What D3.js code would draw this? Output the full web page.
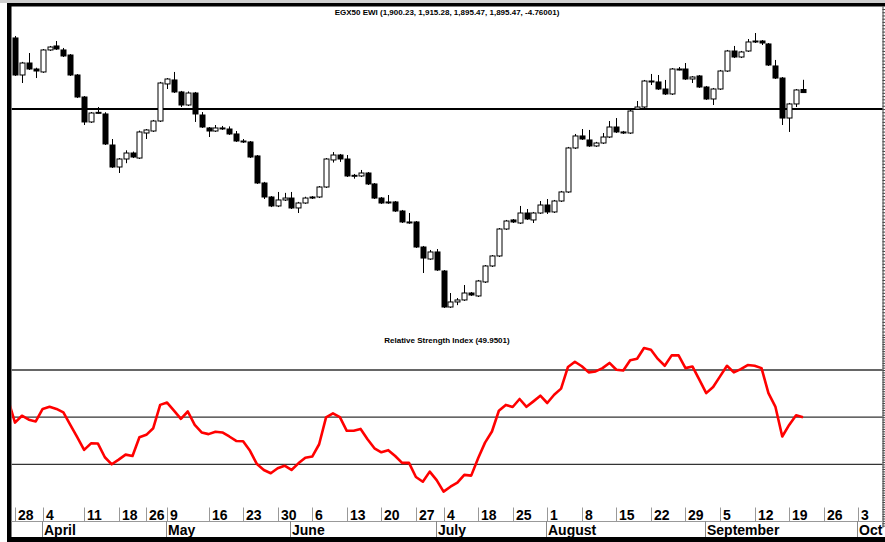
<!DOCTYPE html>
<html>
<head>
<meta charset="utf-8">
<script src="https://cdnjs.cloudflare.com/ajax/libs/d3/7.8.5/d3.min.js"></script>
<style>
  body { margin: 0; background: #fff; }
  svg { display: block; }
  text { font-family: "Liberation Sans", Arial, sans-serif; font-weight: bold; }
</style>
</head>
<body>
<script>
// daily EGX50 EWI candles
var opens  = [1980.1,1922.7,1941.3,1932.0,1927.4,1961.5,1967.7,1961.5,1953.7,1922.7,1888.6,1849.9,1863.8,1862.3,1814.2,1780.1,1792.5,1801.8,1794.0,1832.8,
              1835.9,1851.4,1908.8,1915.0,1896.4,1876.2,1894.8,1860.7,1840.6,1835.9,1840.6,1839.0,1831.3,1820.4,1818.9,1797.2,1755.3,1733.6,1719.7,1729.0,
              1732.0,1716.6,1724.3,1733.6,1733.6,1749.1,1791.0,1798.7,1792.5,1766.2,1766.2,1770.8,1753.8,1732.0,1725.9,1725.9,1711.9,1694.9,1694.9,1656.1,
              1637.5,1648.4,1618.9,1563.1,1570.9,1574.0,1584.8,1580.2,1601.9,1626.7,1642.2,1684.0,1698.0,1693.3,1708.8,1698.0,1708.8,1721.2,1710.4,1727.4,
              1741.4,1809.6,1828.2,1822.0,1812.7,1817.3,1826.6,1842.1,1832.8,1832.8,1870.0,1873.1,1913.4,1911.9,1901.0,1893.3,1932.0,1932.0,1916.5,1921.2,
              1904.1,1885.5,1901.0,1928.9,1959.9,1950.6,1959.9,1975.4,1975.4,1970.8,1936.7,1918.0,1856.0,1877.8,1900.23];
var highs  = [1983.2,1943.0,1956.8,1934.0,1963.0,1967.7,1975.4,1964.6,1955.2,1924.2,1890.1,1865.3,1873.1,1865.0,1823.5,1794.0,1806.0,1804.0,1836.5,1839.0,
              1853.0,1912.0,1918.0,1927.4,1898.0,1897.2,1896.4,1865.3,1842.1,1845.2,1843.7,1843.0,1835.9,1823.5,1820.4,1798.7,1757.0,1735.0,1741.4,1740.0,
              1741.4,1726.0,1734.0,1735.0,1750.6,1794.0,1803.3,1800.3,1798.7,1769.3,1775.5,1772.3,1755.3,1733.6,1736.7,1727.4,1713.5,1708.8,1696.4,1657.7,
              1651.5,1653.0,1620.4,1584.8,1577.0,1597.2,1586.3,1605.0,1628.2,1643.7,1685.5,1698.0,1699.5,1719.7,1715.0,1710.4,1727.4,1730.5,1729.0,1743.0,
              1811.2,1831.3,1839.0,1837.5,1819.0,1832.8,1851.4,1856.0,1836.0,1868.5,1882.4,1915.0,1924.3,1922.7,1915.0,1933.5,1935.1,1941.3,1921.0,1922.7,
              1905.7,1902.6,1930.5,1961.5,1967.7,1960.0,1978.5,1987.8,1976.9,1972.3,1946.0,1919.6,1879.4,1901.0,1915.28];
var lows   = [1921.2,1910.3,1930.5,1918.0,1926.0,1960.0,1961.5,1950.6,1921.2,1887.0,1845.2,1848.4,1862.3,1814.2,1778.6,1770.8,1786.0,1794.0,1792.5,1823.5,
              1834.4,1849.9,1901.0,1894.8,1873.1,1874.6,1849.9,1840.6,1826.6,1834.4,1837.5,1829.8,1818.9,1817.3,1794.0,1753.8,1730.5,1718.0,1718.0,1727.4,
              1715.0,1708.8,1723.0,1730.5,1732.0,1747.6,1787.0,1788.0,1764.6,1762.0,1764.6,1752.2,1730.5,1722.8,1723.0,1710.4,1693.3,1692.0,1654.6,1615.8,
              1636.0,1619.0,1561.6,1561.6,1566.0,1572.5,1580.2,1578.6,1600.3,1625.1,1640.6,1682.5,1693.3,1691.8,1698.0,1693.3,1707.3,1707.3,1708.8,1725.9,
              1739.9,1808.0,1822.0,1811.2,1811.2,1815.8,1825.0,1832.8,1831.3,1831.3,1868.5,1871.6,1907.2,1899.5,1891.7,1891.7,1929.8,1915.0,1910.3,1902.6,
              1884.0,1876.2,1899.5,1927.4,1949.0,1949.0,1958.4,1972.3,1969.2,1936.7,1916.5,1845.2,1834.4,1873.1,1895.47];
var closes = [1922.7,1941.3,1932.0,1928.9,1961.5,1966.1,1963.0,1952.2,1922.7,1888.6,1849.9,1863.8,1864.8,1815.8,1780.1,1792.5,1801.8,1795.6,1834.4,1837.5,
              1851.4,1910.3,1916.5,1896.4,1876.2,1894.8,1862.3,1842.1,1835.9,1840.6,1839.5,1831.3,1820.4,1819.5,1795.6,1755.3,1733.6,1719.7,1729.0,1732.0,
              1716.6,1724.3,1732.0,1732.0,1749.1,1792.5,1798.7,1792.5,1766.2,1767.2,1770.8,1753.8,1732.0,1724.3,1724.9,1711.9,1694.9,1693.9,1656.1,1639.0,
              1648.4,1620.5,1563.1,1570.9,1574.0,1584.8,1581.7,1603.4,1626.7,1642.2,1684.0,1696.4,1694.9,1708.8,1699.5,1708.8,1721.2,1710.4,1727.4,1741.4,
              1809.6,1828.2,1823.5,1812.7,1817.3,1826.6,1842.1,1834.4,1834.4,1866.9,1873.1,1913.4,1912.4,1901.0,1893.3,1932.0,1931.0,1916.5,1919.6,1904.1,
              1885.5,1901.0,1928.9,1959.9,1950.6,1958.4,1973.9,1974.4,1972.3,1938.2,1918.0,1856.0,1877.8,1899.5,1895.47];

// RSI, first value belongs to the day before the first candle
var rsiStart = -1;
var rsi = [57.4,
  47.7,50.6,48.9,48.2,53.5,54.4,53.5,52.0,46.7,41.5,36.1,38.9,38.8,33.0,30.0,32.0,34.1,33.5,41.5,42.5,
  45.3,55.2,56.2,52.8,49.3,52.4,46.7,43.5,42.8,43.8,43.5,41.8,39.9,39.8,35.7,30.1,27.6,26.2,28.3,29.4,
  27.6,30.4,32.8,33.3,38.5,49.9,51.6,50.0,44.2,44.2,45.0,40.6,36.8,35.1,36.0,33.5,30.6,30.6,24.6,22.6,
  26.9,23.3,18.4,20.5,22.2,25.5,25.2,32.6,39.2,43.9,52.7,55.2,54.3,57.7,54.4,56.7,59.1,56.0,59.5,62.1,
  71.3,73.5,71.6,69.0,69.4,70.8,73.0,70.1,69.8,74.1,74.8,79.3,78.6,74.7,71.8,76.2,76.2,70.8,71.5,65.9,
  60.2,62.8,67.3,71.8,69.0,70.4,72.1,71.8,70.8,60.2,54.5,41.8,46.7,50.8,49.95];
var rsiLevels = [30, 50, 70];
var refLevel = 1870;

// date axis
var dayLabels = ["28","4","11","18","26","9","16","23","30","6","13","20","27","4","18","25","1","8","15","22","29","5","12","19","26","3"];
var dayIdx    = [0,4,10,15,19,22,28,33,38,43,48,53,58,62,67,72,77,82,87,92,97,102,107,112,117,122];
var monthLabels = ["April","May","June","July","August","September","Oct"];
var monthIdx    = [4,22,40,61,77,100,122];

var titleText = "EGX50 EWI (1,900.23, 1,915.28, 1,895.47, 1,895.47, -4.76001)";
var rsiTitle = "Relative Strength Index (49.9501)";

var W = 885, H = 542;
var svg = d3.select("body").append("svg").attr("width", W).attr("height", H);

var x = d3.scaleLinear().domain([0, closes.length - 1]).range([15, 803]);
var yPrice = d3.scaleLinear().domain([1535.2, 2007.95]).range([325, 20]);
var yRsi = d3.scaleLinear().domain([30, 70]).range([464.3, 370]);

svg.append("defs").append("clipPath").attr("id", "plot")
  .append("rect").attr("x", 11.5).attr("y", 6).attr("width", 871).attr("height", 500);

// frame
svg.append("rect").attr("x", 0).attr("y", 0).attr("width", W).attr("height", 3).attr("fill", "#cfcfcf");
svg.append("rect").attr("x", 7).attr("y", 3).attr("width", W - 7).attr("height", 3.5).attr("fill", "#000");
svg.append("rect").attr("x", 7).attr("y", 3).attr("width", 4.5).attr("height", H - 3).attr("fill", "#000");
svg.append("rect").attr("x", 7).attr("y", 537).attr("width", W - 7).attr("height", 5).attr("fill", "#000");

// right edge axes (cut off)
svg.append("g").attr("transform", "translate(882.5,0)")
  .call(d3.axisRight(yPrice.copy().domain([yPrice.invert(335), yPrice.invert(6)]).range([335, 6]))
    .ticks(100).tickSize(3).tickSizeOuter(0).tickFormat(""))
  .call(function(g) { g.selectAll("line,path").attr("stroke", "#444"); });
svg.append("g").attr("transform", "translate(882.5,0)")
  .call(d3.axisRight(yRsi.copy().domain([yRsi.invert(527), yRsi.invert(335)]).range([527, 335]))
    .ticks(70).tickSize(3).tickSizeOuter(0).tickFormat(""))
  .call(function(g) { g.selectAll("line,path").attr("stroke", "#444"); });

// titles
svg.append("text").attr("x", 447).attr("y", 15).attr("text-anchor", "middle")
  .style("font-size", "8px").text(titleText);
svg.append("text").attr("x", 447).attr("y", 343).attr("text-anchor", "middle")
  .style("font-size", "8px").text(rsiTitle);

var plot = svg.append("g").attr("clip-path", "url(#plot)");

// reference line in the price panel
plot.append("line")
  .attr("x1", 11.5).attr("x2", 883)
  .attr("y1", yPrice(refLevel)).attr("y2", yPrice(refLevel))
  .attr("stroke", "#000").attr("stroke-width", 2);

// candles
var idx = d3.range(closes.length);
var candle = plot.selectAll(".candle").data(idx).enter().append("g").attr("class", "candle");
candle.append("line")
  .attr("x1", function(i) { return Math.round(x(i)) + 0.5; })
  .attr("x2", function(i) { return Math.round(x(i)) + 0.5; })
  .attr("y1", function(i) { return yPrice(highs[i]); })
  .attr("y2", function(i) { return yPrice(lows[i]); })
  .attr("stroke", "#000").attr("stroke-width", 1);
candle.append("rect")
  .attr("x", function(i) { return Math.round(x(i)) - 2; })
  .attr("width", 5)
  .attr("y", function(i) { return yPrice(Math.max(opens[i], closes[i])); })
  .attr("height", function(i) { return Math.max(1, Math.abs(yPrice(opens[i]) - yPrice(closes[i]))); })
  .attr("fill", function(i) { return closes[i] < opens[i] ? "#000" : "#fff"; })
  .attr("stroke", "#000").attr("stroke-width", 1);

// RSI panel
plot.selectAll(".lvl").data(rsiLevels).enter().append("line").attr("class", "lvl")
  .attr("x1", 11.5).attr("x2", 883)
  .attr("y1", function(d) { return yRsi(d); }).attr("y2", function(d) { return yRsi(d); })
  .attr("stroke", "#333").attr("stroke-width", 1.3);

var rsiLine = d3.line()
  .x(function(d, i) { return x(i + rsiStart); })
  .y(function(d) { return yRsi(d); });
plot.append("path").datum(rsi)
  .attr("d", rsiLine)
  .attr("fill", "none").attr("stroke", "#ff0000").attr("stroke-width", 2.6)
  .attr("stroke-linejoin", "round");

// date axis: day row and month row
svg.append("line").attr("x1", 11.5).attr("x2", 883).attr("y1", 521.5).attr("y2", 521.5)
  .attr("stroke", "#999").attr("stroke-width", 1);
var days = svg.selectAll(".day").data(dayIdx).enter().append("g").attr("class", "day");
days.append("line")
  .attr("x1", function(i) { return Math.round(x(i)) + 0.5; })
  .attr("x2", function(i) { return Math.round(x(i)) + 0.5; })
  .attr("y1", 507.5).attr("y2", 521)
  .attr("stroke", "#999").attr("stroke-width", 1);
days.append("text")
  .attr("x", function(i) { return Math.round(x(i)) + 3; })
  .attr("y", 519.5)
  .style("font-size", "14px")
  .text(function(i, k) { return dayLabels[k]; });

var months = svg.selectAll(".month").data(monthIdx).enter().append("g").attr("class", "month");
months.append("line")
  .attr("x1", function(i) { return Math.round(x(i)) - 0.5; })
  .attr("x2", function(i) { return Math.round(x(i)) - 0.5; })
  .attr("y1", 521).attr("y2", 537)
  .attr("stroke", "#888").attr("stroke-width", 1);
months.append("text")
  .attr("x", function(i) { return Math.round(x(i)) + 1; })
  .attr("y", 534.5)
  .style("font-size", "14px")
  .text(function(i, k) { return monthLabels[k]; });
</script>
</body>
</html>
